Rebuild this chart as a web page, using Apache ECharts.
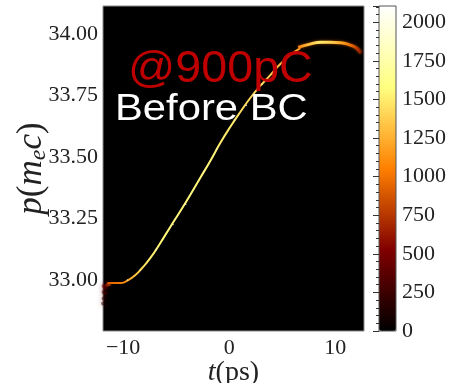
<!DOCTYPE html>
<html>
<head>
<meta charset="utf-8">
<script src="https://cdn.jsdelivr.net/npm/echarts@6/dist/echarts.min.js"></script>
<style>
html,body{margin:0;padding:0;background:#fff;}
#chart{width:461px;height:383px;}
</style>
</head>
<body>
<div id="chart"></div>
<script>
// ---- data ----
// main (thin) beam centre line: time t (ps) and momentum p (m_e c)
const curveT = [-11.5, -10.85, -10.19, -9.53, -8.87, -8.21, -7.45, -6.51, -5.57, -4.62, -3.68, -2.74, -1.79, -0.85, 0.09, 1.04, 1.98, 2.92, 3.87, 4.81, 5.75, 6.7];
const curveP = [32.988, 32.988, 32.988, 33.0, 33.02, 33.049, 33.089, 33.15, 33.215, 33.28, 33.346, 33.415, 33.484, 33.557, 33.622, 33.683, 33.74, 33.789, 33.833, 33.878, 33.915, 33.943];
const curveD = [800, 950, 1000, 1150, 1300, 1400, 1500, 1550, 1550, 1550, 1550, 1550, 1550, 1500, 1500, 1450, 1400, 1400, 1350, 1300, 1250, 1150];
// bright sparkles seen along the centre line
const sparkT = [-9.6, -8.4, -6.9, -5.3, -4.1, -2.4, -1.2, 0.5, 1.6, 3.1, 4.4, 5.6];
const sparkP = [33.0, 33.041, 33.124, 33.226, 33.308, 33.44, 33.533, 33.651, 33.71, 33.796, 33.858, 33.91];
const sparkD = [1900, 1800, 2000, 1900, 2050, 1850, 2000, 1900, 1950, 1800, 1850, 1750];
// beam tail arc at the top right
const arcT = [6.5, 7.6, 8.6, 9.5, 10.5, 11.4, 12.0, 12.4];
const arcP = [33.946, 33.959, 33.967, 33.967, 33.965, 33.955, 33.943, 33.923];
const arcD = [1000, 1300, 1500, 1400, 1200, 950, 700, 400];
// faint smear below the beam head
const tailT = [-11.85, -11.7, -11.55, -11.85, -11.7, -11.85, -11.9, -11.45, -11.3];
const tailP = [32.976, 32.968, 32.978, 32.952, 32.945, 32.925, 32.905, 32.982, 32.984];
const tailD = [480, 400, 600, 330, 280, 220, 150, 750, 850];
// axes
const xTicks = [-10, 0, 10];
const yTicks = [33.0, 33.25, 33.5, 33.75, 34.0];
const xRange = [-11.9, 12.7];
const yRange = [32.793, 34.114];
const cbarMax = 2105;
const cbarStep = 250;
const label1 = '@900pC';
const label2 = 'Before BC';

// afmhot colormap
const cmapStops = ['#000000', '#800000', '#ff8000', '#ffff80', '#ffffff'];
function afmhot(d) {
  const t = Math.max(0, Math.min(1, d / cbarMax));
  const c = v => Math.round(255 * Math.max(0, Math.min(1, v)));
  return 'rgb(' + c(2 * t) + ',' + c(2 * t - 0.5) + ',' + c(2 * t - 1) + ')';
}
function gradientFor(ts, ds) {
  const t0 = ts[0], t1 = ts[ts.length - 1];
  const stops = ts.map((t, i) => ({ offset: (t - t0) / (t1 - t0), color: afmhot(ds[i]) }));
  return new echarts.graphic.LinearGradient(0, 0, 1, 0, stops);
}

const chart = echarts.init(document.getElementById('chart'), null, { renderer: 'canvas' });
const serif = '"Liberation Serif", "Times New Roman", serif';
const sans = '"Liberation Sans", Arial, sans-serif';

const option = {
  backgroundColor: '#ffffff',
  animation: false,
  grid: [
    { left: 103, top: 6, width: 261, height: 325, show: true, backgroundColor: '#000000', borderColor: '#8a8a8a', borderWidth: 1, containLabel: false, outerBoundsMode: 'none' },
    { left: 379, top: 6, width: 17, height: 325, show: true, backgroundColor: 'transparent', borderColor: '#555555', borderWidth: 1, z: 10, containLabel: false, outerBoundsMode: 'none' }
  ],
  xAxis: [
    {
      gridIndex: 0, type: 'value', min: xRange[0], max: xRange[1],
      axisLine: { show: false }, axisTick: { show: false }, splitLine: { show: false },
      axisLabel: {
        customValues: xTicks, margin: 6,
        formatter: v => String(v).replace('-', '\u2212'),
        fontFamily: serif, fontSize: 22, color: '#222'
      },
      name: '{i|t}{n|(ps)}', nameLocation: 'middle', nameGap: 28, nameMoveOverlap: false,
      nameTextStyle: {
        rich: {
          i: { fontFamily: serif, fontStyle: 'italic', fontSize: 28, color: '#222' },
          n: { fontFamily: serif, fontSize: 28, color: '#222' }
        }
      }
    },
    { gridIndex: 1, type: 'value', min: 0, max: 1, show: false }
  ],
  yAxis: [
    {
      gridIndex: 0, type: 'value', min: yRange[0], max: yRange[1],
      axisLine: { show: false }, axisTick: { show: false }, splitLine: { show: false },
      axisLabel: {
        customValues: yTicks, margin: 5,
        formatter: v => v.toFixed(2),
        fontFamily: serif, fontSize: 22, color: '#222'
      },
      name: '{i|p}{n|(}{i|m}{s|e}{i|c}{n|)}', nameLocation: 'middle', nameGap: 52, nameMoveOverlap: false,
      nameTextStyle: {
        rich: {
          i: { fontFamily: serif, fontStyle: 'italic', fontSize: 35, color: '#222' },
          n: { fontFamily: serif, fontSize: 35, color: '#222' },
          s: { fontFamily: serif, fontStyle: 'italic', fontSize: 24, color: '#222', padding: [14, 0, 0, 0] }
        }
      }
    },
    {
      gridIndex: 1, type: 'value', position: 'right', min: 0, max: cbarMax, interval: cbarStep, z: 10,
      axisLine: { show: false }, splitLine: { show: false },
      axisTick: { show: true, inside: true, length: 6, lineStyle: { color: '#333', width: 1 } },
      minorTick: { show: true, splitNumber: 5, length: 3, lineStyle: { color: '#333', width: 1 } },
      axisLabel: { showMaxLabel: false, margin: 6, formatter: v => String(v), fontFamily: serif, fontSize: 22, color: '#222' }
    }
  ],
  visualMap: {
    type: 'continuous', min: 0, max: cbarMax, dimension: 2, seriesIndex: [2, 3],
    inRange: { color: cmapStops },
    left: 379, top: 6, itemWidth: 17, itemHeight: 325, padding: 0,
    calculable: false, realtime: false, text: null, showLabel: false, z: 4
  },
  series: [
    {
      type: 'line', xAxisIndex: 0, yAxisIndex: 0, smooth: true, symbol: 'none', z: 3,
      data: curveT.map((t, i) => [t, curveP[i]]),
      lineStyle: { width: 2, color: gradientFor(curveT, curveD) }
    },
    {
      type: 'line', xAxisIndex: 0, yAxisIndex: 0, smooth: true, symbol: 'none', z: 3,
      data: arcT.map((t, i) => [t, arcP[i]]),
      lineStyle: { width: 3, color: gradientFor(arcT, arcD), shadowBlur: 3, shadowColor: 'rgba(255,110,0,0.6)' }
    },
    {
      type: 'scatter', xAxisIndex: 0, yAxisIndex: 0, symbolSize: 4, z: 2,
      itemStyle: { opacity: 0.5, shadowBlur: 5, shadowColor: 'rgba(120,0,0,0.8)' },
      data: tailT.map((t, i) => [t, tailP[i], tailD[i]])
    },
    {
      type: 'scatter', xAxisIndex: 0, yAxisIndex: 0, symbolSize: 1.6, z: 4,
      data: sparkT.map((t, i) => [t, sparkP[i], sparkD[i]])
    }
  ],
  graphic: [
    { type: 'text', x: 128, y: 70, scaleX: 1.06, z: 100,
      style: { text: label1, fill: '#c00000', font: '44px ' + sans, verticalAlign: 'middle', align: 'left' } },
    { type: 'text', x: 115, y: 110, scaleX: 1.16, z: 100,
      style: { text: label2, fill: '#ffffff', font: '36px ' + sans, verticalAlign: 'middle', align: 'left' } }
  ]
};
chart.setOption(option);
</script>
</body>
</html>
